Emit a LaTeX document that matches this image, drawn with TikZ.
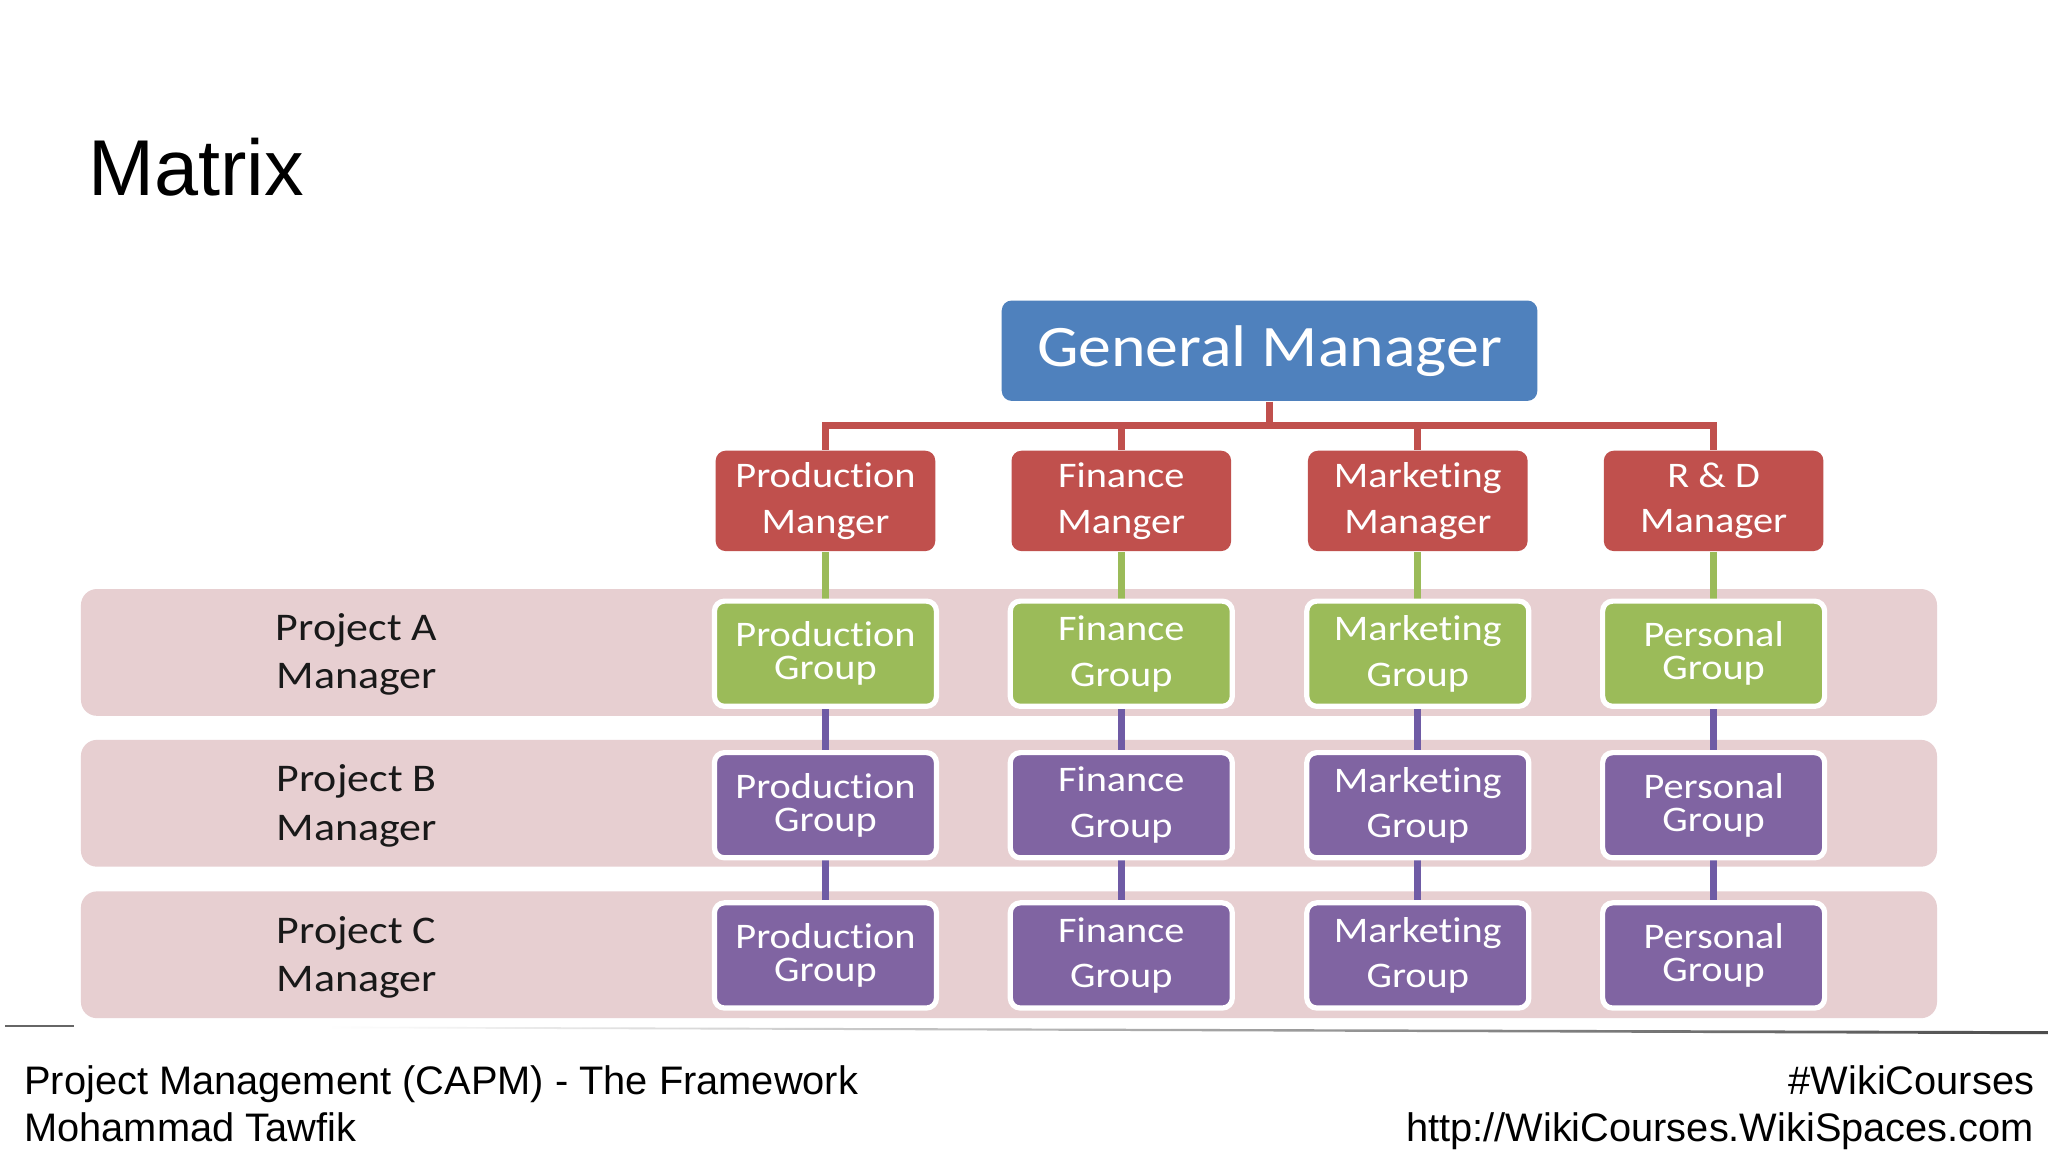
\documentclass[tikz,border=0pt]{standalone}
\usepackage{fontspec}
\setmainfont{Liberation Sans}
\newfontfamily\diag[FakeStretch=1.12,Ligatures={NoCommon}]{Carlito}
\usetikzlibrary{calc}
\pgfdeclarelayer{bands}
\pgfdeclarelayer{links}
\pgfsetlayers{bands,links,main}
\definecolor{gmblue}{HTML}{4F81BD}
\definecolor{mred}{HTML}{C0504D}
\definecolor{ggreen}{HTML}{9BBB59}
\definecolor{gpurple}{HTML}{8064A2}
\definecolor{lpurple}{HTML}{6F5BA5}
\definecolor{bandpink}{HTML}{E7CFD1}
\begin{document}
\begin{tikzpicture}[x=0.32653pt,y=-0.32653pt,
  gmbox/.style={fill=gmblue, rounded corners=2.5pt, minimum width=133.9pt, minimum height=25.1pt,
    text=white, font=\diag\fontsize{14.7}{17}\selectfont, inner sep=0pt},
  mgrbox/.style={fill=mred, rounded corners=2.5pt, minimum width=54.9pt, minimum height=25.1pt,
    text=white, align=center, font=\diag\fontsize{9}{11.4}\selectfont, inner sep=0pt},
  grpbox/.style={draw=white, line width=1.3pt, rounded corners=2.5pt, minimum width=55.5pt, minimum height=26.3pt,
    text=white, align=center, inner sep=0pt},
  greenbox/.style={grpbox, fill=ggreen},
  purplebox/.style={grpbox, fill=gpurple},
  tight/.style={font=\diag\fontsize{9}{8.2}\selectfont},
  loose/.style={font=\diag\fontsize{9}{11.4}\selectfont},
  bandbox/.style={fill=bandpink, rounded corners=4pt, minimum width=464pt, minimum height=31.7pt, inner sep=0pt},
  projlabel/.style={align=center, text=black!90, font=\diag\fontsize{9.8}{12.1}\selectfont, inner sep=0pt},
  redlink/.style={draw=mred, line width=1.7pt},
  greenlink/.style={draw=ggreen, line width=1.7pt},
  purplelink/.style={draw=lpurple, line width=1.7pt},
  foot/.style={inner sep=0pt, font=\fontsize{9.95}{12}\selectfont}
]
\useasboundingbox (0,0) rectangle (1568,882);

% bands
\begin{pgfonlayer}{bands}
\fill[white] (0,0) rectangle (1568,882);
\node[bandbox] (bandA) at (772.5,499.5) {};
\node[bandbox] (bandB) at (772.5,615) {};
\node[bandbox] (bandC) at (772.5,731) {};
\end{pgfonlayer}

% title
\node[anchor=base west, inner sep=0pt, font=\fontsize{19.8}{24}\selectfont] (title) at (67,150) {Matrix};

% project labels
\node[projlabel] (pa) at (273,501) {Project A\\Manager};
\node[projlabel] (pb) at (273,617) {Project B\\Manager};
\node[projlabel] (pc) at (273,733) {Project C\\Manager};

% general manager
\node[gmbox] (gm) at (972,268.5) {General Manager};

% functional managers
\node[mgrbox] (pm) at (632,383.5) {Production\\Manger};
\node[mgrbox] (fm) at (858.5,383.5) {Finance\\Manger};
\node[mgrbox] (mm) at (1085.5,383.5) {Marketing\\Manager};
\node[mgrbox] (rm) at (1312,383.5) {R \& D\\Manager};

% project A (green)
\node[greenbox, tight] (a1) at (632,500.5) {Production\\Group};
\node[greenbox, loose] (a2) at (858.5,500.5) {Finance\\Group};
\node[greenbox, loose] (a3) at (1085.5,500.5) {Marketing\\Group};
\node[greenbox, tight] (a4) at (1312,500.5) {Personal\\Group};

% project B
\node[purplebox, tight] (b1) at (632,616.5) {Production\\Group};
\node[purplebox, loose] (b2) at (858.5,616.5) {Finance\\Group};
\node[purplebox, loose] (b3) at (1085.5,616.5) {Marketing\\Group};
\node[purplebox, tight] (b4) at (1312,616.5) {Personal\\Group};

% project C
\node[purplebox, tight] (c1) at (632,731.5) {Production\\Group};
\node[purplebox, loose] (c2) at (858.5,731.5) {Finance\\Group};
\node[purplebox, loose] (c3) at (1085.5,731.5) {Marketing\\Group};
\node[purplebox, tight] (c4) at (1312,731.5) {Personal\\Group};

\coordinate (bus) at (972,326);

\begin{pgfonlayer}{links}
\draw[redlink] (gm.south) -- (gm.south |- bus);
\draw[redlink] (pm.north) |- (rm.north |- bus) -- (rm.north);
\draw[redlink] (fm.north) -- (fm.north |- bus);
\draw[redlink] (mm.north) -- (mm.north |- bus);
\foreach \m/\g in {pm/a1, fm/a2, mm/a3, rm/a4}{
  \draw[greenlink] (\m.south) -- (\g.north);
}
\foreach \u/\v in {a1/b1, a2/b2, a3/b3, a4/b4, b1/c1, b2/c2, b3/c3, b4/c4}{
  \draw[purplelink] (\u.south) -- (\v.north);
}
\end{pgfonlayer}

% footer rules
\draw[draw=gray!80!black, line width=0.5pt] (4,785.5) coordinate (r1) -- (57,785.5) coordinate (r2);
\shade[left color=white, right color=black!70] (250,786) -- (1568,789.5) -- (1568,791.8) -- (250,787.2) -- cycle;

% footer texts
\node[foot, anchor=base west] (f1) at (18,838) {Project Management (CAPM) - The Framework};
\node[foot, anchor=base west] (f2) at (18,874) {Mohammad Tawfik};
\node[foot, anchor=base east] (f3) at (1558,838) {\#WikiCourses};
\node[foot, anchor=base east] (f4) at (1558,874) {http://WikiCourses.WikiSpaces.com};
\end{tikzpicture}
\end{document}
